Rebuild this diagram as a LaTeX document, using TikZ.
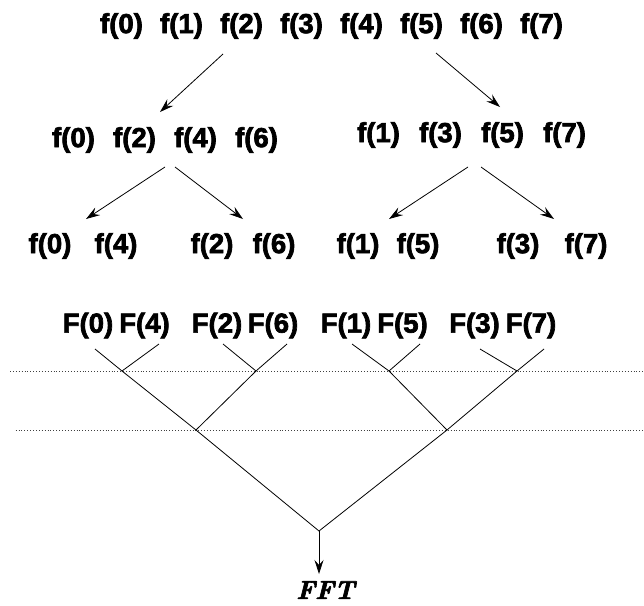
\documentclass[tikz,border=0pt]{standalone}
\usepackage{fontspec}
\newfontfamily\labfont{Liberation Sans}[UprightFont=* Bold, FakeBold=2.5]
\newfontfamily\fftfont{lmroman10-bolditalic}[Extension=.otf, FakeBold=2.5]
\usetikzlibrary{arrows.meta}
\tikzset{
  lab/.style={inner sep=0pt, font=\labfont\fontsize{27.5}{30}\selectfont},
  ttl/.style={inner sep=0pt, font=\fftfont\fontsize{26}{28}\selectfont},
  arr/.style={line width=0.8pt, -{Stealth[length=14pt,width=9pt,inset=5pt]}},
  tree/.style={line width=0.8pt},
  guide/.style={line width=0.9pt, dotted, black!75}
}
\begin{document}
\begin{tikzpicture}[x=1pt,y=-1pt]
\useasboundingbox (0,0) rectangle (644,605);
% row 1
\foreach \i/\x in {0/121.5,1/181.5,2/241.5,3/301.5,4/361.5,5/421.5,6/481.5,7/541.5}
  \node[lab] (a\i) at (\x,26) {f(\i)};
% row 2
\foreach \i/\x in {0/73.5,2/134.5,4/195.5,6/256.5}
  \node[lab] (b\i) at (\x,140) {f(\i)};
\foreach \i/\x in {1/378.5,3/440.5,5/502.5,7/564.5}
  \node[lab] (b\i) at (\x,135) {f(\i)};
% row 3
\foreach \i/\x in {0/50,4/116,2/212,6/274,1/358,5/418,3/518,7/586}
  \node[lab] (c\i) at (\x,246) {f(\i)};
% row 4
\foreach \i/\x in {0/88,4/144.5,2/217,6/273,1/346,5/402.5,3/474.5,7/531}
  \node[lab] (d\i) at (\x,325.5) {F(\i)};
\node[ttl] (fft) at (325.5,590) {FFT};

% arrow coordinates
\coordinate (s1) at (223,54);  \coordinate (e1) at (160,112);
\coordinate (s2) at (436,53);  \coordinate (e2) at (500,107);
\coordinate (s3) at (165,167); \coordinate (e3) at (86,219);
\coordinate (s4) at (175,167); \coordinate (e4) at (243,219);
\coordinate (s5) at (468,167); \coordinate (e5) at (389,219);
\coordinate (s6) at (481,167); \coordinate (e6) at (554,219);
\foreach \k in {1,...,6} \draw[arr] (s\k) -- (e\k);

% guide lines
\coordinate (g1a) at (10,371);   \coordinate (g1b) at (644,371);
\coordinate (g2a) at (15.6,430); \coordinate (g2b) at (644,430);
\draw[guide] (g1a) -- (g1b);
\draw[guide] (g2a) -- (g2b);

% butterfly tree
\coordinate (t0) at (95,349);  \coordinate (t4) at (159,344);
\coordinate (t2) at (223,344); \coordinate (t6) at (287,344);
\coordinate (t1) at (352,344); \coordinate (t5) at (420,344);
\coordinate (t3) at (480,349); \coordinate (t7) at (544,349);
\coordinate (j04) at (122,371); \coordinate (j26) at (256,371);
\coordinate (j15) at (389,371); \coordinate (j37) at (517,371);
\coordinate (jL) at (196,430);  \coordinate (jR) at (447,430);
\coordinate (root) at (319,531); \coordinate (tip) at (319,574);
\draw[tree] (t0) -- (j04) -- (t4);
\draw[tree] (t2) -- (j26) -- (t6);
\draw[tree] (t1) -- (j15) -- (t5);
\draw[tree] (t3) -- (j37) -- (t7);
\draw[tree] (j04) -- (jL) -- (j26);
\draw[tree] (j15) -- (jR) -- (j37);
\draw[tree] (jL) -- (root) -- (jR);
\draw[arr] (root) -- (tip);
\end{tikzpicture}
\end{document}
